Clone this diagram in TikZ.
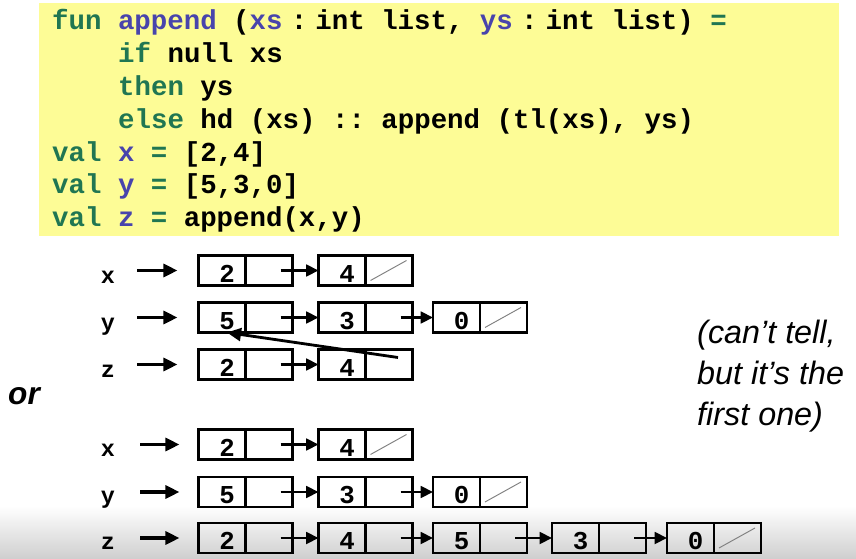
\documentclass[tikz,border=0pt]{standalone}
\usepackage{fontspec}
\setmonofont{Liberation Mono}
\newfontfamily\notefont{Liberation Sans}
\usepackage{xcolor}
\usetikzlibrary{positioning,arrows.meta}

\definecolor{codebg}{RGB}{253,252,150}
\definecolor{kwgreen}{RGB}{32,118,82}
\definecolor{idblue}{RGB}{72,68,172}
\newcommand{\kwd}[1]{\textcolor{kwgreen}{#1}}
\newcommand{\ident}[1]{\textcolor{idblue}{#1}}
\newcommand{\cln}{\hspace{0.3em}:\hspace{0.3em}}

\begin{document}
\begin{tikzpicture}[x=0.03cm, y=-0.03cm,
    code/.style={anchor=base west, inner sep=0pt,
      font=\ttfamily\bfseries\fontsize{23.4}{28}\selectfont},
    var/.style={anchor=base, inner sep=0pt,
      font=\ttfamily\bfseries\fontsize{20}{20}\selectfont},
    half/.style={draw, line width=2.4pt, minimum width=1.41cm,
      minimum height=0.9cm, inner sep=0pt, outer sep=0pt},
    cell/.style={half, text height=0.78cm, text depth=0.07cm,
      execute at begin node={\hspace*{0.3cm}},
      font=\ttfamily\bfseries\fontsize{22}{22}\selectfont},
    ptr/.style={half, right=0pt of #1},
    ref/.style={line width=2.8pt, -{Triangle[length=12pt,width=11pt]}},
    link/.style={line width=2.2pt, -{Triangle[length=10.5pt,width=10pt]}},
    nil/.style={draw=gray, line width=0.8pt},
    note/.style={inner sep=0pt, align=left,
      font=\notefont\itshape\fontsize{27.6}{34.9}\selectfont}]
    \useasboundingbox (0,0) rectangle (856,559);
    % Background
    \shade[top color=white, bottom color=black!19] (0,506) rectangle (856,559);
    \fill[codebg] (39,3) rectangle (839,236);

    % Code
    \node[code] (c1) at (52,29) {\kwd{fun} \ident{append} (\ident{xs}\cln int list, \ident{ys}\cln int list) \kwd{=}};
    \node[code] (c2) at (118,62) {\kwd{if} null xs};
    \node[code] (c3) at (118,95) {\kwd{then} ys};
    \node[code] (c4) at (118,128) {\kwd{else} hd (xs) :: append (tl(xs), ys)};
    \node[code] (c5) at (52,161) {\kwd{val} \ident{x} \kwd{=} [2,4]};
    \node[code] (c6) at (52,193) {\kwd{val} \ident{y} \kwd{=} [5,3,0]};
    \node[code] (c7) at (52,226) {\kwd{val} \ident{z} \kwd{=} append(x,y)};

    % First picture: cells
    \node[var] (tlx) at (108,283) {x};
    \node[var] (tly) at (108,330) {y};
    \node[var] (tlz) at (108,377) {z};
    \node[cell] (tx1) at (222,270.5) {2}; \node[ptr=tx1] (txp1) {};
    \node[cell] (tx2) at (342,270.5) {4}; \node[ptr=tx2] (txp2) {};
    \node[cell] (ty1) at (222,317.5) {5}; \node[ptr=ty1] (typ1) {};
    \node[cell] (ty2) at (342,317.5) {3}; \node[ptr=ty2] (typ2) {};
    \node[cell] (ty3) at (456.5,317.5) {0}; \node[ptr=ty3] (typ3) {};
    \node[cell] (tz1) at (222,364.5) {2}; \node[ptr=tz1] (tzp1) {};
    \node[cell] (tz2) at (342,364.5) {4}; \node[ptr=tz2] (tzp2) {};

    % First picture: links
    \draw[ref, shorten <=0.66cm, shorten >=0.63cm] (tlx.east |- tx1.west) -- (tx1.west);
    \draw[ref, shorten <=0.66cm, shorten >=0.63cm] (tly.east |- ty1.west) -- (ty1.west);
    \draw[ref, shorten <=0.66cm, shorten >=0.63cm] (tlz.east |- tz1.west) -- (tz1.west);
    \draw[link] ([xshift=-0.36cm]txp1.east) -- (tx2.west);
    \draw[link] ([xshift=-0.36cm]typ1.east) -- (ty2.west);
    \draw[link] ([xshift=-0.36cm]typ2.east) -- (ty3.west);
    \draw[link] ([xshift=-0.36cm]tzp1.east) -- (tz2.west);
    \draw[ref, line width=2.4pt] ([xshift=0.27cm,yshift=0.21cm]tzp2.center) -- ([xshift=0.15cm]ty1.south);
    \draw[nil] ([xshift=0.15cm,yshift=0.15cm]txp2.south west) -- ([xshift=-0.18cm,yshift=-0.15cm]txp2.north east);
    \draw[nil] ([xshift=0.15cm,yshift=0.15cm]typ3.south west) -- ([xshift=-0.18cm,yshift=-0.15cm]typ3.north east);

    \node[inner sep=0pt, font=\notefont\bfseries\itshape\fontsize{27}{27}\selectfont] (alt) at (24,396) {or};
    \node[note, anchor=west] (remark) at (697,376) {(can’t tell,\\but it’s the\\first one)};

    % Second picture: cells
    \node[var] (blx) at (108,456) {x};
    \node[var] (bly) at (108,503) {y};
    \node[var] (blz) at (108,549) {z};
    \node[cell] (bx1) at (222,444.5) {2}; \node[ptr=bx1] (bxp1) {};
    \node[cell] (bx2) at (342,444.5) {4}; \node[ptr=bx2] (bxp2) {};
    \node[cell] (by1) at (222,492) {5}; \node[ptr=by1] (byp1) {};
    \node[cell] (by2) at (342,492) {3}; \node[ptr=by2] (byp2) {};
    \node[cell] (by3) at (456.5,492) {0}; \node[ptr=by3] (byp3) {};
    \node[cell] (bz1) at (222,538) {2}; \node[ptr=bz1] (bzp1) {};
    \node[cell] (bz2) at (342,538) {4}; \node[ptr=bz2] (bzp2) {};
    \node[cell] (bz3) at (456.5,538) {5}; \node[ptr=bz3] (bzp3) {};
    \node[cell] (bz4) at (575.5,538) {3}; \node[ptr=bz4] (bzp4) {};
    \node[cell] (bz5) at (690.5,538) {0}; \node[ptr=bz5] (bzp5) {};

    % Second picture: links
    \draw[ref, shorten <=0.75cm, shorten >=0.57cm] (blx.east |- bx1.west) -- (bx1.west);
    \draw[ref, shorten <=0.75cm, shorten >=0.57cm] (bly.east |- by1.west) -- (by1.west);
    \draw[ref, shorten <=0.75cm, shorten >=0.57cm] (blz.east |- bz1.west) -- (bz1.west);
    \draw[link] ([xshift=-0.36cm]bxp1.east) -- (bx2.west);
    \draw[link] ([xshift=-0.36cm]byp1.east) -- (by2.west);
    \draw[link] ([xshift=-0.36cm]byp2.east) -- (by3.west);
    \draw[link] ([xshift=-0.36cm]bzp1.east) -- (bz2.west);
    \draw[link] ([xshift=-0.36cm]bzp2.east) -- (bz3.west);
    \draw[link] ([xshift=-0.36cm]bzp3.east) -- (bz4.west);
    \draw[link] ([xshift=-0.36cm]bzp4.east) -- (bz5.west);
    \draw[nil] ([xshift=0.15cm,yshift=0.15cm]bxp2.south west) -- ([xshift=-0.18cm,yshift=-0.15cm]bxp2.north east);
    \draw[nil] ([xshift=0.15cm,yshift=0.15cm]byp3.south west) -- ([xshift=-0.18cm,yshift=-0.15cm]byp3.north east);
    \draw[nil] ([xshift=0.15cm,yshift=0.15cm]bzp5.south west) -- ([xshift=-0.18cm,yshift=-0.15cm]bzp5.north east);
\end{tikzpicture}
\end{document}
